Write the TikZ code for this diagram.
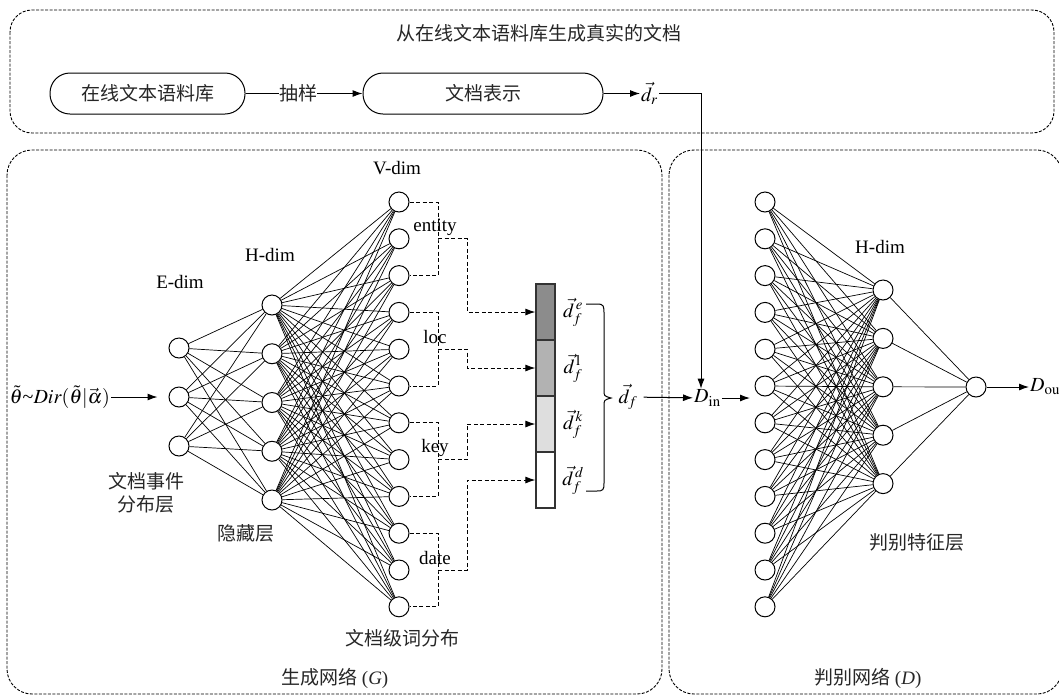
\documentclass[tikz,border=0pt]{standalone}
\usepackage{mathptmx}
\usepackage{fontspec}
\setmainfont{Liberation Serif}
\newfontfamily\cjk{Noto Sans CJK SC}
\usetikzlibrary{arrows.meta}
\tikzset{
 neuron/.style={circle,draw,line width=1pt,minimum size=20pt,inner sep=0pt,fill=white},
 conn/.style={line width=0.7pt},
 dbox/.style={draw,line width=0.9pt,dash pattern=on 3pt off 1.5pt,rounded corners=25pt},
 pill/.style={draw,line width=1pt,rounded corners=20pt,minimum height=41pt},
 arr/.style={line width=1pt,-{Latex[length=10pt,width=7pt]}},
 dline/.style={line width=0.9pt,dash pattern=on 4pt off 2.5pt},
 darr/.style={line width=0.9pt,dash pattern=on 4pt off 2.5pt,-{Latex[length=10pt,width=7pt]}},
 cn/.style={font=\cjk\fontsize{19}{23}\selectfont,inner sep=0pt,text=black!85},
 lt/.style={font=\fontsize{19}{22}\selectfont,inner sep=0pt},
 mt/.style={font=\fontsize{20}{22}\selectfont,inner sep=1pt},
 seg/.style={draw=black!80,line width=1.3pt,minimum width=19pt,minimum height=56pt,inner sep=0pt},
}
\begin{document}
\begin{tikzpicture}[x=1pt,y=-1pt]
\useasboundingbox (0,0) rectangle (1059,697);
% ---------- boxes
\draw[dbox,rounded corners=22pt] (10,10) rectangle (1054,133);
\draw[dbox] (7,150) rectangle (662,694);
\draw[dbox] (669,150) rectangle (1062,694);
% ---------- top row
\node[cn] (title) at (539,33) {从在线文本语料库生成真实的文档};
\node[pill,cn,minimum width=195pt] (corpus) at (147.5,93.5) {在线文本语料库};
\node[cn] (sample) at (298,93.5) {抽样};
\node[pill,cn,minimum width=240pt] (docrep) at (483,93.5) {文档表示};
\node[mt,anchor=west] (dr) at (640,93.5) {$\vec{d}_{r}$};
\coordinate (drturn) at (701,93.5);
\draw[line width=1pt] (corpus) -- (sample);
\draw[arr] (sample) -- (docrep);
\draw[arr] (docrep) -- (dr);
% ---------- generator
\foreach \i/\y in {1/348,2/397,3/446} \node[neuron] (E\i) at (179,\y) {};
\foreach \i in {1,...,5} \node[neuron] (H\i) at (272,{305+48.75*(\i-1)}) {};
\foreach \i in {1,...,12} \node[neuron] (V\i) at (399,{202+36.8*(\i-1)}) {};
\foreach \a in {1,2,3} \foreach \b in {1,...,5} \draw[conn] (E\a) -- (H\b);
\foreach \a in {1,...,5} \foreach \b in {1,...,12} \draw[conn] (H\a) -- (V\b);
\node[lt] (edim) at (180,282) {E-dim};
\node[lt] (hdim) at (270,255) {H-dim};
\node[lt] (vdim) at (397,168) {V-dim};
\node[mt,anchor=east] (theta) at (111,397) {$\tilde{\theta}$\textasciitilde$Dir(\tilde{\theta}|\vec{\alpha})$};
\draw[arr,shorten >=11pt] (theta) -- (E2);
\node[cn,align=center] (elab) at (146,493) {文档事件\\分布层};
\node[cn] (hlab) at (246,533) {隐藏层};
\node[cn] (vlab) at (402,638) {文档级词分布};
\node[cn] (glab) at (335,678) {生成网络 {\rmfamily(\textit{G})}};
% feature bar
\node[seg,fill=black!45] (S1) at (545.5,312) {};
\node[seg,fill=black!30] (S2) at (545.5,368) {};
\node[seg,fill=black!13] (S3) at (545.5,424) {};
\node[seg,fill=white] (S4) at (545.5,480) {};
\foreach \g/\t/\m/\b/\w in {1/1/2/3/entity,2/4/5/6/loc,3/7/8/9/key,4/10/11/12/date} {
  \path (V\m) ++(39,0) coordinate (bk\g);
  \path (V\m) ++(68,0) coordinate (cc\g);
  \draw[dline] (V\t) -| (bk\g) |- (V\b);
  \draw[darr] (bk\g) -- (cc\g) |- (S\g);
  \path (V\m) ++(36,-12) node[lt] (lab\g) {\w};
}
\node[mt] (de) at (573,312) {$\vec{d}^{\,e}_{f}$};
\node[mt] (dl) at (573,368) {$\vec{d}^{\,\mathrm{l}}_{f}$};
\node[mt] (dk) at (573,424) {$\vec{d}^{\,k}_{f}$};
\node[mt] (dd) at (573,480) {$\vec{d}^{\,d}_{f}$};
\draw[line width=1pt] (586,304) -- (597,304) .. controls (604,304) and (604,306) .. (604,314) -- (604,390) .. controls (604,396) .. (611,398) .. controls (604,400) .. (604,406) -- (604,483) .. controls (604,490) and (603,491) .. (597,491) -- (586,491);
\node[mt] (df) at (628,397) {$\vec{d}_{f}$};
\node[mt,anchor=west] (Din) at (693,398) {$D_{\mathrm{in}}$};
\draw[arr,shorten <=5pt] (df) -- (Din);
\draw[arr] (dr) -- (drturn) -- (drturn |- Din.north);
% ---------- discriminator
\foreach \i in {1,...,12} \node[neuron] (I\i) at (765,{202+36.8*(\i-1)}) {};
\foreach \i in {1,...,5} \node[neuron] (DH\i) at (883,{290+48.4*(\i-1)}) {};
\node[neuron] (O) at (976,387) {};
\foreach \a in {1,...,12} \foreach \b in {1,...,5} \draw[conn] (I\a) -- (DH\b);
\foreach \a in {1,...,5} \draw[conn] (DH\a) -- (O);
\coordinate (Dinarr) at (750,398);
\draw[arr] (Din) -- (Dinarr);
\node[mt,anchor=west] (Dout) at (1029,387) {$D_{\mathrm{out}}$};
\draw[arr] (O) -- (Dout);
\node[lt] (dhdim) at (880,247) {H-dim};
\node[cn] (dfl) at (917,542) {判别特征层};
\node[cn] (dlab) at (868,678) {判别网络 {\rmfamily(\textit{D})}};
\end{tikzpicture}
\end{document}
